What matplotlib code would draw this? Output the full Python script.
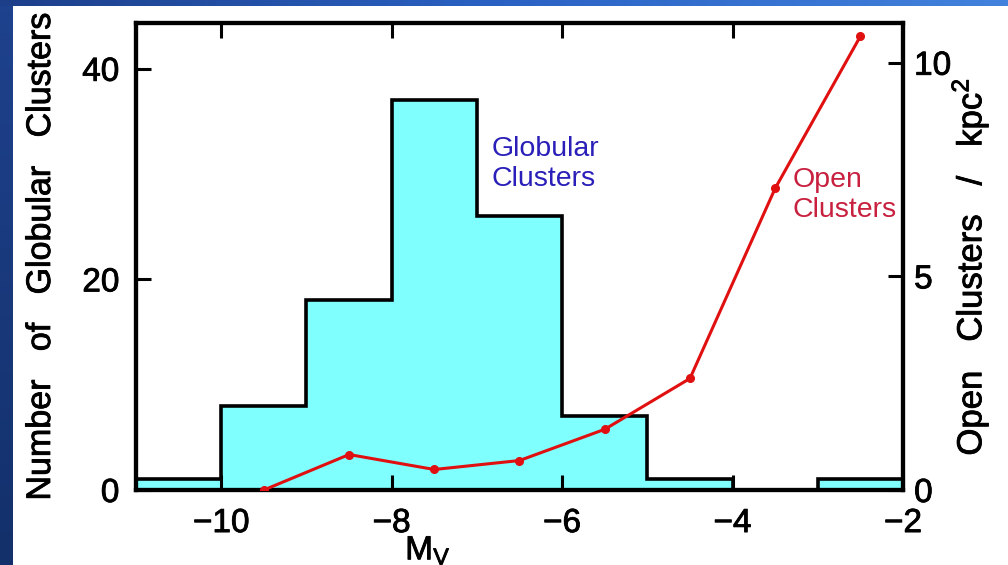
import matplotlib
matplotlib.use("Agg")
import matplotlib.pyplot as plt
import matplotlib.patheffects as pe
import numpy as np
from matplotlib.colors import LinearSegmentedColormap

plt.rcParams["font.family"] = ["Liberation Sans", "DejaVu Sans"]
plt.rcParams["mathtext.fontset"] = "custom"
plt.rcParams["mathtext.rm"] = "Liberation Sans"
plt.rcParams["mathtext.it"] = "Liberation Sans"

# Globular cluster luminosity function (counts per 1-mag bin)
mv_edges = [-11, -10, -9, -8, -7, -6, -5, -4, -3, -2]
gc_counts = [1, 8, 18, 37, 26, 7, 1, 0, 1]

# Open cluster surface density per bin centre
oc_mv = [-9.5, -8.5, -7.5, -6.5, -5.5, -4.5, -3.5, -2.5]
oc_density = [0.0, 0.83, 0.48, 0.69, 1.42, 2.61, 7.06, 10.62]

left_ticks = [0, 20, 40]
right_ticks = [0, 5, 10]
x_ticks = [-10, -8, -6, -4, -2]

W, H = 1008, 565
fig = plt.figure(figsize=(W / 100, H / 100), dpi=100, facecolor="white")

# blue slide frame: dark strip on the left, gradient band on top
lstrip = fig.add_axes([0, 0, 13 / W, 1])
lstrip.imshow(np.linspace(0, 1, 50).reshape(-1, 1), aspect="auto",
              cmap=LinearSegmentedColormap.from_list("l", ["#1f428e", "#13306a"]))
lstrip.axis("off")
tstrip = fig.add_axes([0, 1 - 6 / H, 1, 6 / H])
tstrip.imshow(np.linspace(0, 1, 200).reshape(1, -1), aspect="auto",
              cmap=LinearSegmentedColormap.from_list("t", ["#1d3f8a", "#2a62c4", "#4282dc"]))
tstrip.axis("off")

# slightly heavier strokes for the black text
heavy = [pe.withStroke(linewidth=0.6, foreground="black")]

ax = fig.add_axes([136 / W, (H - 490) / H, (903 - 136) / W, (490 - 23) / H])
ax.stairs(gc_counts, mv_edges, fill=True, color="#80ffff", zorder=1)
ax.stairs(gc_counts, mv_edges, color="black", linewidth=2.6, zorder=2)

ax.set_xlim(-11, -2)
ax.set_ylim(0, 44.35)
ax.set_xticks(x_ticks)
ax.set_yticks(left_ticks)
ax.tick_params(axis="both", direction="in", length=11, width=2.2, labelsize=24,
               top=True, right=False)
ax.tick_params(axis="x", pad=13)
ax.tick_params(axis="y", pad=12)
for s in ax.spines.values():
    s.set_linewidth(3)

ax.set_xlabel(r"M$_{\rm V}$", fontsize=24, labelpad=0)
ax.xaxis.set_label_coords((428 - 136) / 767, -0.095)
ax.set_ylabel("Number   of   Globular   Clusters", fontsize=24.5)
ax.yaxis.set_label_coords(-0.103, 0.5)

ax2 = ax.twinx()
ax2.plot(oc_mv, oc_density, color="#e01010", linewidth=2.2, marker="o",
         markersize=5.5, zorder=3)
ax2.set_ylim(0, 10.93)
ax2.set_yticks(right_ticks)
ax2.tick_params(axis="y", direction="in", length=11, width=2.2, labelsize=24, pad=8)
for s in ax2.spines.values():
    s.set_linewidth(3)
ax2.set_ylabel(r"Open   Clusters   /   kpc$^{\rm 2}$", fontsize=25)
ax2.yaxis.set_label_coords(1.06, 0.478)

for t in (ax.get_xticklabels() + ax.get_yticklabels() + ax2.get_yticklabels()
          + [ax.xaxis.label, ax.yaxis.label, ax2.yaxis.label]):
    t.set_path_effects(heavy)

ax.text(-6.83, 31.0, "Globular\nClusters", color="#2a1fb8", fontsize=20.5,
        linespacing=1.2, va="center", ha="left")
ax.text(-3.3, 28.0, "Open\nClusters", color="#c8203f", fontsize=20.5,
        linespacing=1.2, va="center", ha="left")

fig.savefig("out.png", dpi=100, facecolor="white")
